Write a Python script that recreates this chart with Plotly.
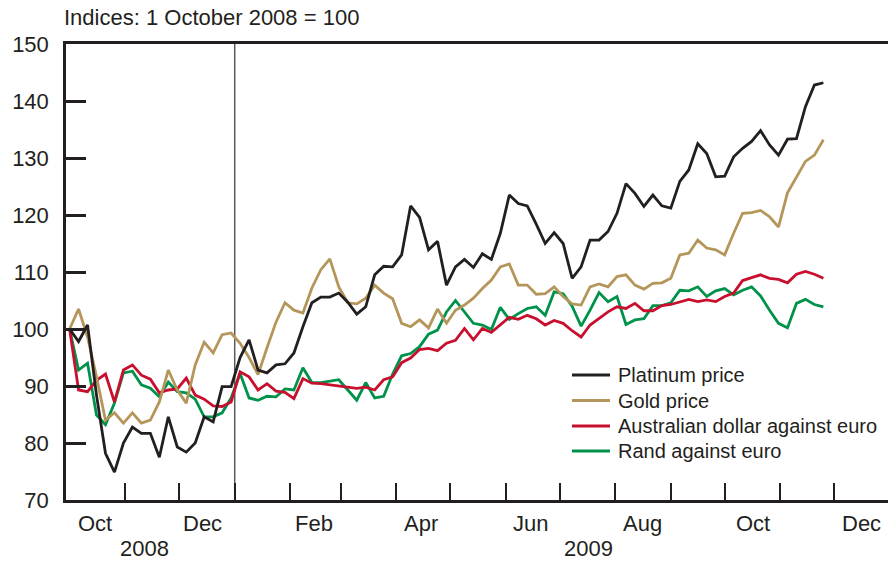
import pandas as pd
import plotly.graph_objects as go

# Observation dates (every 5 days from 1 October 2008)
dates = pd.date_range("2008-10-01", periods=85, freq="5D")

platinum = [100, 97.8, 100.7, 88.4, 78.2, 74.9, 80, 82.8, 81.7, 81.7,
            77.5, 84.6, 79.3, 78.4, 80, 84.6, 83.7, 89.9, 89.9, 95,
            98.1, 92.8, 92.3, 93.7, 93.9, 95.8, 100.4, 104.6, 105.6, 105.6,
            106.3, 104.7, 102.6, 103.9, 109.5, 111, 110.9, 113, 121.6, 119.6,
            113.9, 115.4, 107.7, 110.9, 112.2, 110.8, 113.2, 112.2, 116.8, 123.5,
            122, 121.6, 118.4, 115, 116.9, 115, 108.9, 110.9, 115.6, 115.6,
            117.1, 120.3, 125.5, 123.8, 121.5, 123.5, 121.6, 121.2, 125.9, 127.9,
            132.5, 130.8, 126.7, 126.8, 130.2, 131.7, 132.9, 134.8, 132.3, 130.5,
            133.3, 133.4, 139, 142.8, 143.2]

gold = [100, 103.5, 98.6, 91.6, 84, 85.3, 83.5, 85.3, 83.5, 84,
        87.2, 92.8, 89.3, 87, 93.7, 97.7, 95.8, 99, 99.3, 97.5,
        95, 92, 96.7, 101.2, 104.6, 103.3, 102.8, 107.2, 110.4, 112.3,
        107.4, 104.6, 104.4, 105.4, 107.7, 106.3, 105.3, 101, 100.4, 101.6,
        100.2, 103.5, 101, 103.3, 104.2, 105.4, 107.1, 108.6, 110.9, 111.4,
        107.7, 107.7, 106.1, 106.2, 107.4, 105.7, 104.4, 104.2, 107.4, 107.9,
        107.4, 109.2, 109.5, 107.7, 107, 108, 108.1, 108.9, 113, 113.3,
        115.6, 114.2, 113.9, 113, 116.8, 120.3, 120.4, 120.8, 119.7, 117.9,
        123.9, 126.6, 129.4, 130.5, 133.2]

aud_eur = [100, 89.3, 89, 91, 92.1, 87.2, 92.8, 93.7, 91.9, 91.2,
           88.8, 89.3, 89.5, 91.4, 88.4, 87.7, 86.5, 86.4, 87.2, 92.5,
           91.6, 89.3, 90.4, 89.1, 88.9, 87.8, 91.3, 90.5, 90.4, 90.2,
           89.9, 89.8, 89.6, 89.8, 89.3, 91.1, 91.6, 94.1, 94.9, 96.4,
           96.6, 96.2, 97.5, 98, 100.1, 98.1, 100.1, 99.4, 100.7, 102.05,
           101.7, 102.4, 101.8, 100.7, 101.5, 101, 99.7, 98.6, 100.7, 101.8,
           103, 103.9, 103.6, 104.5, 103.2, 103.2, 104.1, 104.3, 104.8, 105.2,
           104.8, 105.1, 104.8, 105.7, 106.3, 108.5, 109, 109.5, 108.9, 108.7,
           108.1, 109.6, 110.1, 109.6, 108.9]

zar_eur = [100, 92.8, 94, 84.9, 83.2, 87, 92.3, 92.6, 90.2, 89.6,
           88.1, 90.7, 89, 88.8, 87.7, 84.6, 84.6, 85.3, 87.9, 92.2,
           87.9, 87.5, 88.2, 88.1, 89.5, 89.3, 93.2, 90.6, 90.6, 90.8,
           91.1, 89.3, 87.5, 90.6, 87.9, 88.2, 92.1, 95.3, 95.7, 96.9,
           99.1, 99.8, 103, 105, 102.9, 101, 100.7, 99.9, 103.8, 101.7,
           102.7, 103.6, 103.9, 102.4, 106.5, 106.2, 104, 100.5, 103.3, 106.4,
           104.8, 105.7, 100.8, 101.6, 101.8, 104.1, 104.1, 104.6, 106.8, 106.7,
           107.4, 105.7, 106.7, 107.1, 106, 106.8, 107.4, 105.8, 103.3, 101,
           100.2, 104.5, 105.2, 104.3, 103.9]

series_names = ["Platinum price", "Gold price",
                "Australian dollar against euro", "Rand against euro"]
series_values = [platinum, gold, aud_eur, zar_eur]
series_colors = ["#231f20", "#b4965a", "#c8102e", "#00924a"]

month_tick_dates = ["2008-11-01", "2008-12-01", "2009-01-01", "2009-02-01",
                    "2009-03-01", "2009-04-01", "2009-05-01", "2009-06-01",
                    "2009-07-01", "2009-08-01", "2009-09-01", "2009-10-01",
                    "2009-11-01", "2009-12-01"]
month_label_dates = ["2008-10-15", "2008-12-14", "2009-02-14", "2009-04-15",
                     "2009-06-15", "2009-08-16", "2009-10-17", "2009-12-16"]
month_labels = ["Oct", "Dec", "Feb", "Apr", "Jun", "Aug", "Oct", "Dec"]
year_label_dates = ["2008-11-12", "2009-07-17"]
year_labels = ["2008", "2009"]
y_ticks = [70, 80, 90, 100, 110, 120, 130, 140, 150]
year_break = "2009-01-01"
title_text = "Indices: 1 October 2008 = 100"

INK = "#231f20"
FONT = "Liberation Sans"

# plot-area geometry (pixels) used to place the key in paper coordinates
PL, PW, PB, PH = 66, 822, 500, 456
def px(x):
    return (x - PL) / PW
def py(y):
    return (PB - y) / PH

fig = go.Figure()
for name, vals, col in reversed(list(zip(series_names, series_values, series_colors))):
    fig.add_trace(go.Scatter(x=dates, y=vals, mode="lines", name=name,
                             showlegend=False,
                             line=dict(color=col, width=2.8)))

annotations = [dict(text=title_text, xref="paper", yref="paper", x=px(62), y=py(18),
                    xanchor="left", yanchor="middle", showarrow=False,
                    font=dict(family=FONT, size=22, color=INK))]
for d, t in zip(month_label_dates, month_labels):
    annotations.append(dict(text=t, x=d, xref="x", yref="paper", y=py(523),
                            xanchor="center", yanchor="middle", showarrow=False,
                            font=dict(family=FONT, size=22, color=INK)))
for d, t in zip(year_label_dates, year_labels):
    annotations.append(dict(text=t, x=d, xref="x", yref="paper", y=py(548),
                            xanchor="center", yanchor="middle", showarrow=False,
                            borderpad=0,
                            font=dict(family=FONT, size=22, color=INK)))

shapes = [dict(type="line", x0=year_break, x1=year_break, xref="x",
               y0=0, y1=1, yref="paper", layer="below",
               line=dict(color="#5a5a5a", width=1.5))]

# key
key_rows = [375, 400.5, 426, 451]
for (name, col), ry in zip(zip(series_names, series_colors), key_rows):
    shapes.append(dict(type="line", xref="paper", yref="paper",
                       x0=px(572), x1=px(610), y0=py(ry), y1=py(ry),
                       line=dict(color=col, width=3)))
    annotations.append(dict(text=name, xref="paper", yref="paper",
                            x=px(616), y=py(ry), xanchor="left", yanchor="middle",
                            showarrow=False,
                            font=dict(family=FONT, size=20, color=INK)))

fig.update_layout(
    width=888, height=563,
    margin=dict(l=66, r=0, t=44, b=63, autoexpand=False),
    paper_bgcolor="white", plot_bgcolor="white",
    font=dict(family=FONT, size=22, color=INK),
    showlegend=False,
    annotations=annotations,
    shapes=shapes,
    xaxis=dict(type="date", range=["2008-09-29", "2009-12-31"],
               tickvals=month_tick_dates, showticklabels=False,
               ticks="inside", ticklen=17, tickwidth=2, tickcolor=INK,
               showline=True, linewidth=2.5, linecolor=INK, mirror=True,
               showgrid=False, zeroline=False, automargin=False),
    yaxis=dict(range=[70, 150], tickvals=y_ticks,
               ticks="inside", ticklen=20, tickwidth=2.5, tickcolor=INK,
               showline=True, linewidth=2.5, linecolor=INK,
               showgrid=False, zeroline=False, ticklabelstandoff=10,
               automargin=False,
               tickfont=dict(family=FONT, size=22, color=INK)),
)

fig.write_html("out.html", config={"displayModeBar": False},
               post_script="document.body.style.margin='0';document.body.style.overflow='hidden';")
